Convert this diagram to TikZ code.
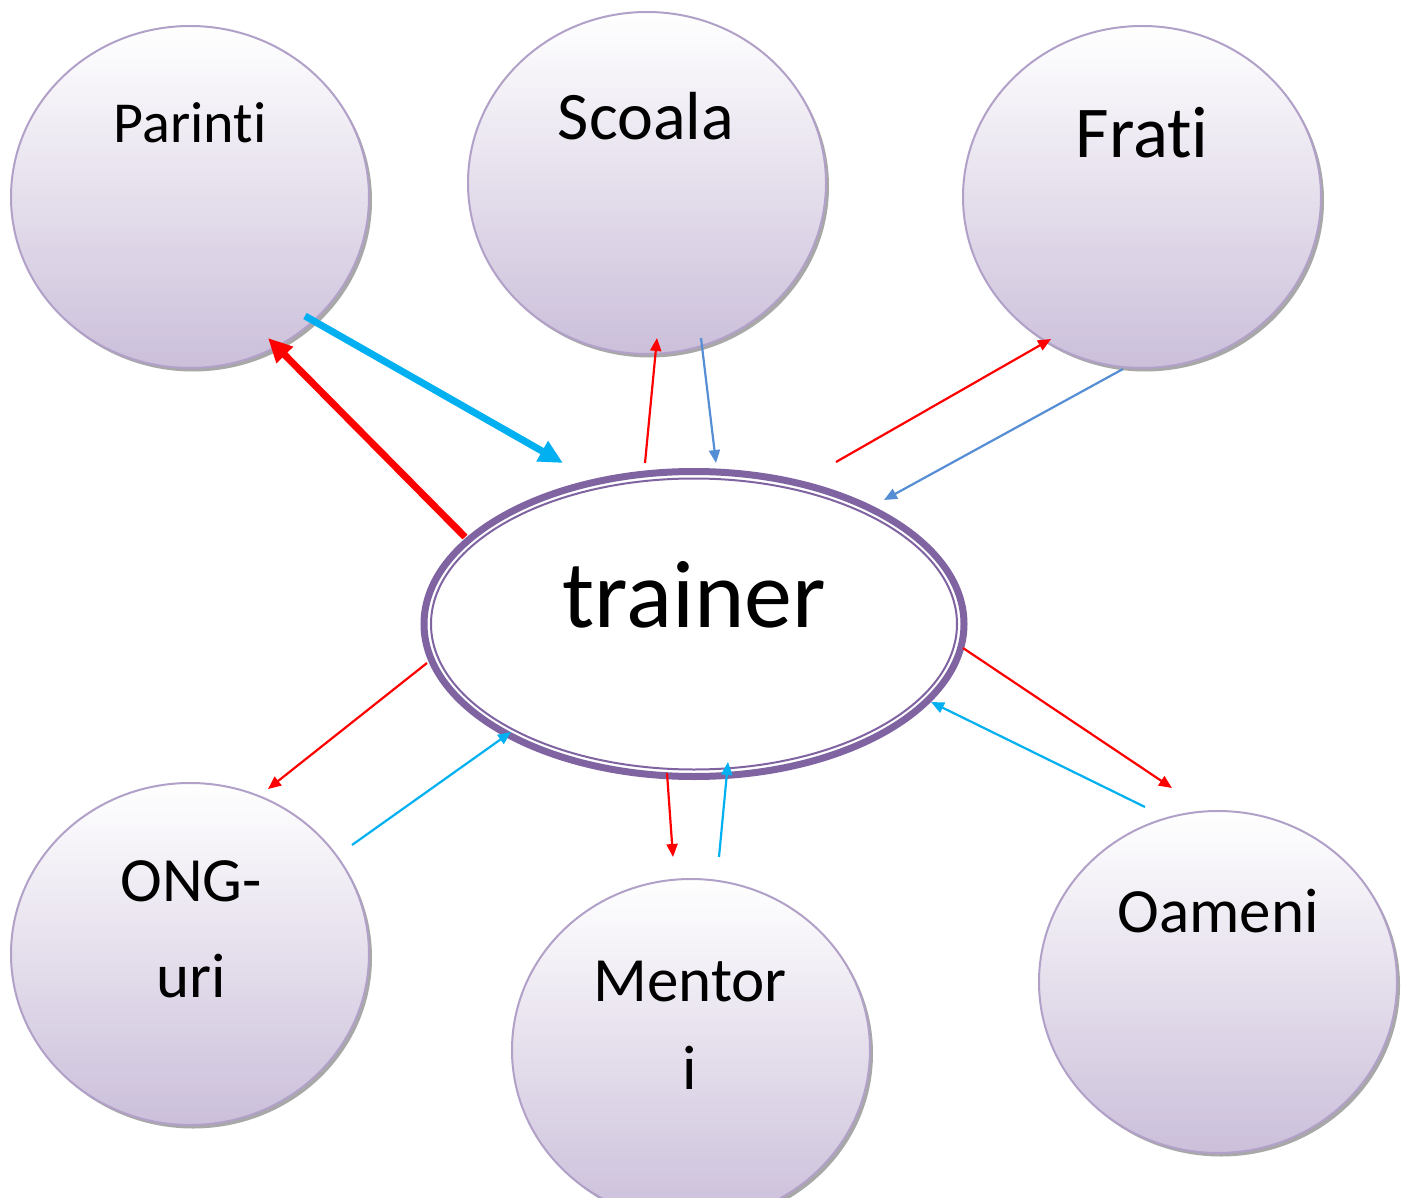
\documentclass[tikz,border=0pt]{standalone}
\usepackage{fontspec}
\setmainfont{Carlito}[RawFeature={-liga;-clig;-dlig}]
\usetikzlibrary{shapes.geometric,arrows.meta,shadows}
\definecolor{lav}{RGB}{203,191,218}
\definecolor{lavborder}{RGB}{177,160,199}
\definecolor{trpurple}{RGB}{128,100,162}
\definecolor{arrred}{RGB}{255,0,0}
\definecolor{arrcyan}{RGB}{0,176,240}
\definecolor{arrblue}{RGB}{85,142,213}
\tikzset{
  bubble/.style={ellipse, minimum width=358pt, minimum height=342pt, inner sep=0pt,
    draw=lavborder, line width=2pt, top color=white, bottom color=lav,
    drop shadow={shadow xshift=3pt, shadow yshift=-3.5pt, fill=black!40, opacity=0.85}},
  lbl/.style={anchor=base, inner sep=0pt, text=black},
  thickarr/.style={line width=7pt, -{Triangle[length=24pt, width=22pt]}},
  thinarr/.style={line width=2.2pt, -{Triangle[length=13pt, width=11pt]}},
}
\begin{document}
\begin{tikzpicture}[x=1pt, y=-1pt]
\useasboundingbox (0,0) rectangle (1411,1198);
\fill[white] (0,0) rectangle (1411,1198);
% bubbles
\node[bubble] (parinti) at (190,197) {};
\node[bubble] (scoala) at (647,183) {};
\node[bubble] (frati) at (1142,197) {};
\node[bubble] (ong) at (190,954) {};
\node[bubble] (mentori) at (691,1050) {};
\node[bubble] (oameni) at (1218,982) {};
% labels
\node[lbl, font=\fontsize{58}{60}\selectfont] (tparinti) at (190,143) {Parint\kern0pt i};
\node[lbl, font=\fontsize{68}{70}\selectfont] (tscoala) at (646,140) {Scoala};
\node[lbl, font=\fontsize{73}{75}\selectfont] (tfrati) at (1142,158) {Frat\kern0pt i};
\node[lbl, font=\fontsize{63}{65}\selectfont] (tong1) at (191,901) {ONG-};
\node[lbl, font=\fontsize{63}{65}\selectfont] (tong2) at (191,997) {uri};
\node[lbl, font=\fontsize{63}{65}\selectfont] (tment1) at (690,1001) {Mentor};
\node[lbl, font=\fontsize{63}{65}\selectfont] (tment2) at (690,1089) {i};
\node[lbl, font=\fontsize{63}{65}\selectfont] (toam) at (1218,932) {Oameni};
% trainer
\node[ellipse, minimum width=540pt, minimum height=305pt, inner sep=0pt,
      draw=trpurple, line width=7pt, fill=white] (trainer) at (694,624) {};
\draw[trpurple, line width=2pt] (trainer.center) ellipse [x radius=263pt, y radius=145.5pt];
\node[lbl, font=\fontsize{96}{98}\selectfont] (ttrainer) at (694,627) {trainer};
% connector end points
\coordinate (a1) at (465,537); \coordinate (b1) at (268,338);
\coordinate (a2) at (305,316); \coordinate (b2) at (563,463);
\coordinate (a3) at (645,463); \coordinate (b3) at (657,338);
\coordinate (a4) at (701,338); \coordinate (b4) at (716,463);
\coordinate (a5) at (836,462); \coordinate (b5) at (1051,339);
\coordinate (a6) at (1123,369); \coordinate (b6) at (884,500);
\coordinate (a7) at (427,663); \coordinate (b7) at (268,789);
\coordinate (a8) at (352,845); \coordinate (b8) at (511,732);
\coordinate (a9) at (667,773); \coordinate (b9) at (673,857);
\coordinate (a10) at (719,857); \coordinate (b10) at (728,762);
\coordinate (a11) at (963,648); \coordinate (b11) at (1172,788);
\coordinate (a12) at (1145,807); \coordinate (b12) at (931,702);
% connectors
\draw[thickarr, arrred] (a1) -- (b1);
\draw[thickarr, arrcyan] (a2) -- (b2);
\draw[thinarr, arrred] (a3) -- (b3);
\draw[thinarr, arrblue] (a4) -- (b4);
\draw[thinarr, arrred] (a5) -- (b5);
\draw[thinarr, arrblue] (a6) -- (b6);
\draw[thinarr, arrred] (a7) -- (b7);
\draw[thinarr, arrcyan] (a8) -- (b8);
\draw[thinarr, arrred] (a9) -- (b9);
\draw[thinarr, arrcyan] (a10) -- (b10);
\draw[thinarr, arrred] (a11) -- (b11);
\draw[thinarr, arrcyan] (a12) -- (b12);
\end{tikzpicture}
\end{document}
